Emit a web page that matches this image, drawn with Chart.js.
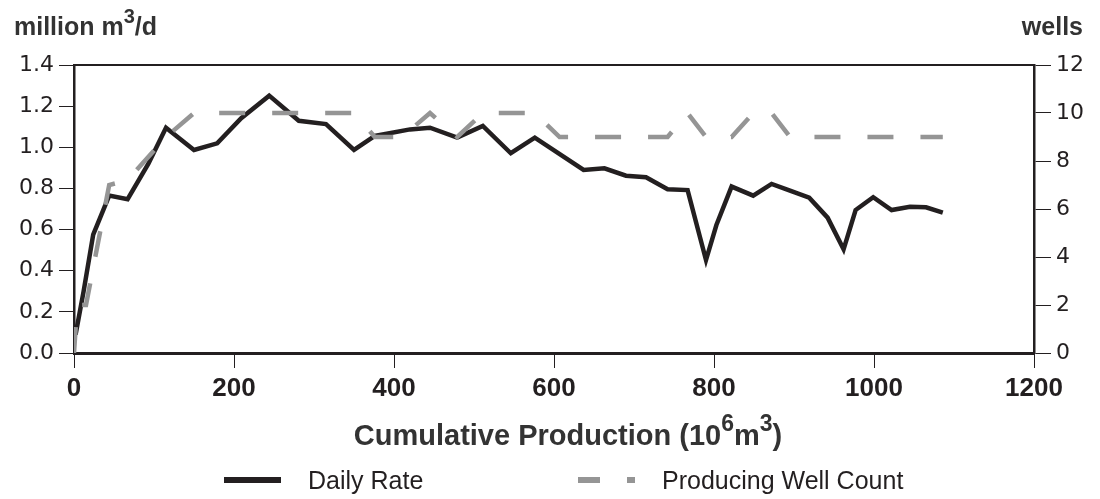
<!DOCTYPE html>
<html>
<head>
<meta charset="utf-8">
<title>Daily Rate and Producing Well Count</title>
<script src="https://cdn.jsdelivr.net/npm/chart.js@4.4.1/dist/chart.umd.min.js"></script>
<style>
  html, body { margin: 0; padding: 0; background: #ffffff; }
  canvas { display: block; }
</style>
</head>
<body>
<canvas id="grafico" width="1100" height="499"></canvas>
<script>
// Daily rate (million m3/d) against cumulative production (10^6 m3)
const cumulativeRate = [2, 12, 24, 44, 67, 93, 115, 150, 179, 209, 244, 281, 315, 350, 376, 420, 445, 479, 511, 546,
    576, 637, 663, 690, 715, 742, 767, 790, 803, 822, 849, 872, 895, 919, 942, 962, 977, 999, 1022, 1045, 1065, 1086];
const dailyRate = [0.09, 0.30, 0.575, 0.765, 0.748, 0.92, 1.095, 0.987, 1.019, 1.141, 1.251, 1.129, 1.113, 0.987, 1.055, 1.087, 1.095, 1.047, 1.104, 0.971,
    1.047, 0.89, 0.898, 0.862, 0.854, 0.796, 0.792, 0.452, 0.622, 0.809, 0.765, 0.822, 0.789, 0.755, 0.658, 0.504, 0.695, 0.757, 0.695, 0.711, 0.708, 0.682];

// Producing well count against cumulative production
const cumulativeWells = [0, 4, 15, 44, 67, 115, 150, 350, 376, 410, 445, 479, 511, 576, 607, 742, 767, 790, 822, 849, 872, 895, 1086];
const wellCount = [0, 2, 2, 7, 7.2, 9, 10, 10, 9, 9, 10, 9, 10, 10, 9, 9, 10, 9, 9, 10, 10, 9, 9];

// Axis ranges
const xTicks = [0, 200, 400, 600, 800, 1000, 1200];
const rateTicks = [0, 0.2, 0.4, 0.6, 0.8, 1.0, 1.2, 1.4];
const wellTicks = [0, 2, 4, 6, 8, 10, 12];

const axisColor = "#231f20";
const textColor = "#231f20";
const titleColor = "#333333";
const sansFont = '"Liberation Sans", Arial, sans-serif';

// Text with superscripts (m3, 10^6) drawn piece by piece
function drawRich(ctx, parts, x, y, align, size, weight) {
    const supSize = Math.round(size * 0.78);
    let total = 0;
    parts.forEach(p => {
        ctx.font = weight + " " + (p.sup ? supSize : size) + "px " + sansFont;
        total += ctx.measureText(p.text).width;
    });
    let cx = x;
    if (align === "center") cx = x - total / 2;
    if (align === "right") cx = x - total;
    ctx.textAlign = "left";
    ctx.textBaseline = "alphabetic";
    parts.forEach(p => {
        ctx.font = weight + " " + (p.sup ? supSize : size) + "px " + sansFont;
        ctx.fillText(p.text, cx, p.sup ? y - size * 0.5 : y);
        cx += ctx.measureText(p.text).width;
    });
}

// Corner units, x axis title and legend
const textosGrafico = {
    id: "textosGrafico",
    afterDraw(chart) {
        const ctx = chart.ctx;
        ctx.save();
        ctx.fillStyle = titleColor;
        drawRich(ctx, [{ text: "million m" }, { text: "3", sup: true }, { text: "/d" }], 14, 35, "left", 25, "bold");
        drawRich(ctx, [{ text: "wells" }], 1083, 35, "right", 25, "bold");
        drawRich(ctx, [{ text: "Cumulative Production (10" }, { text: "6", sup: true }, { text: "m" }, { text: "3", sup: true }, { text: ")" }],
            568, 445, "center", 29, "bold");

        // Legend
        const items = [
            { ds: chart.data.datasets[0], x: 224, dash: [] },
            { ds: chart.data.datasets[1], x: 578, dash: [22, 27] }
        ];
        items.forEach(item => {
            ctx.beginPath();
            ctx.setLineDash(item.dash);
            ctx.lineWidth = 6;
            ctx.lineCap = "butt";
            ctx.strokeStyle = item.ds.borderColor;
            ctx.moveTo(item.x, 480);
            ctx.lineTo(item.x + 57, 480);
            ctx.stroke();
            ctx.setLineDash([]);
            ctx.fillStyle = textColor;
            ctx.font = "25px " + sansFont;
            ctx.textAlign = "left";
            ctx.textBaseline = "alphabetic";
            ctx.fillText(item.ds.label, item.x + 84, 489);
        });
        ctx.restore();
    }
};

const ctx = document.getElementById("grafico").getContext("2d");
const grafico = new Chart(ctx, {
    type: "line",
    data: {
        datasets: [
            {
                label: "Daily Rate",
                data: cumulativeRate.map((c, i) => ({ x: c, y: dailyRate[i] })),
                yAxisID: "y",
                borderColor: "#231f20",
                borderWidth: 4.5,
                pointRadius: 0,
                fill: false,
                tension: 0,
                order: 1
            },
            {
                label: "Producing Well Count",
                data: cumulativeWells.map((c, i) => ({ x: c, y: wellCount[i] })),
                yAxisID: "y1",
                borderColor: "#959595",
                borderWidth: 4.5,
                borderDash: [26, 27],
                pointRadius: 0,
                fill: false,
                tension: 0,
                order: 0
            }
        ]
    },
    options: {
        responsive: false,
        animation: false,
        devicePixelRatio: 1,
        layout: { padding: { top: 65, bottom: 80, left: 0, right: 0 } },
        plugins: {
            legend: { display: false },
            tooltip: { enabled: false }
        },
        scales: {
            x: {
                type: "linear",
                position: "bottom",
                min: xTicks[0],
                max: xTicks[xTicks.length - 1],
                afterBuildTicks: s => { s.ticks = xTicks.map(v => ({ value: v })); },
                ticks: {
                    autoSkip: false,
                    maxRotation: 0,
                    padding: 5,
                    color: textColor,
                    font: { family: sansFont, size: 26, weight: "bold" },
                    callback: v => String(v)
                },
                grid: { drawOnChartArea: false, drawTicks: true, tickLength: 15, color: axisColor, lineWidth: 1 },
                border: { display: true, color: axisColor, width: 3 },
                afterFit: s => { s.height = 66; }
            },
            xTop: {
                type: "linear",
                position: "top",
                min: 0,
                max: 1200,
                ticks: { display: false },
                grid: { display: false, drawTicks: false },
                border: { display: true, color: axisColor, width: 2 },
                afterFit: s => { s.height = 0; }
            },
            y: {
                position: "left",
                min: rateTicks[0],
                max: rateTicks[rateTicks.length - 1],
                afterBuildTicks: s => { s.ticks = rateTicks.map(v => ({ value: v })); },
                ticks: {
                    padding: 5,
                    color: textColor,
                    font: { family: '"DejaVu Sans", sans-serif', size: 22 },
                    callback: v => Number(v).toFixed(1)
                },
                grid: { drawOnChartArea: false, drawTicks: true, tickLength: 15, color: axisColor, lineWidth: 1 },
                border: { display: true, color: axisColor, width: 2.5 },
                afterFit: s => { s.width = 74; }
            },
            y1: {
                position: "right",
                min: wellTicks[0],
                max: wellTicks[wellTicks.length - 1],
                afterBuildTicks: s => { s.ticks = wellTicks.map(v => ({ value: v })); },
                ticks: {
                    padding: 5,
                    color: textColor,
                    font: { family: '"DejaVu Sans", sans-serif', size: 22 },
                    callback: v => String(v)
                },
                grid: { drawOnChartArea: false, drawTicks: true, tickLength: 17, color: axisColor, lineWidth: 1 },
                border: { display: true, color: axisColor, width: 2.5 },
                afterFit: s => { s.width = 66; }
            }
        }
    },
    plugins: [textosGrafico]
});
</script>
</body>
</html>
